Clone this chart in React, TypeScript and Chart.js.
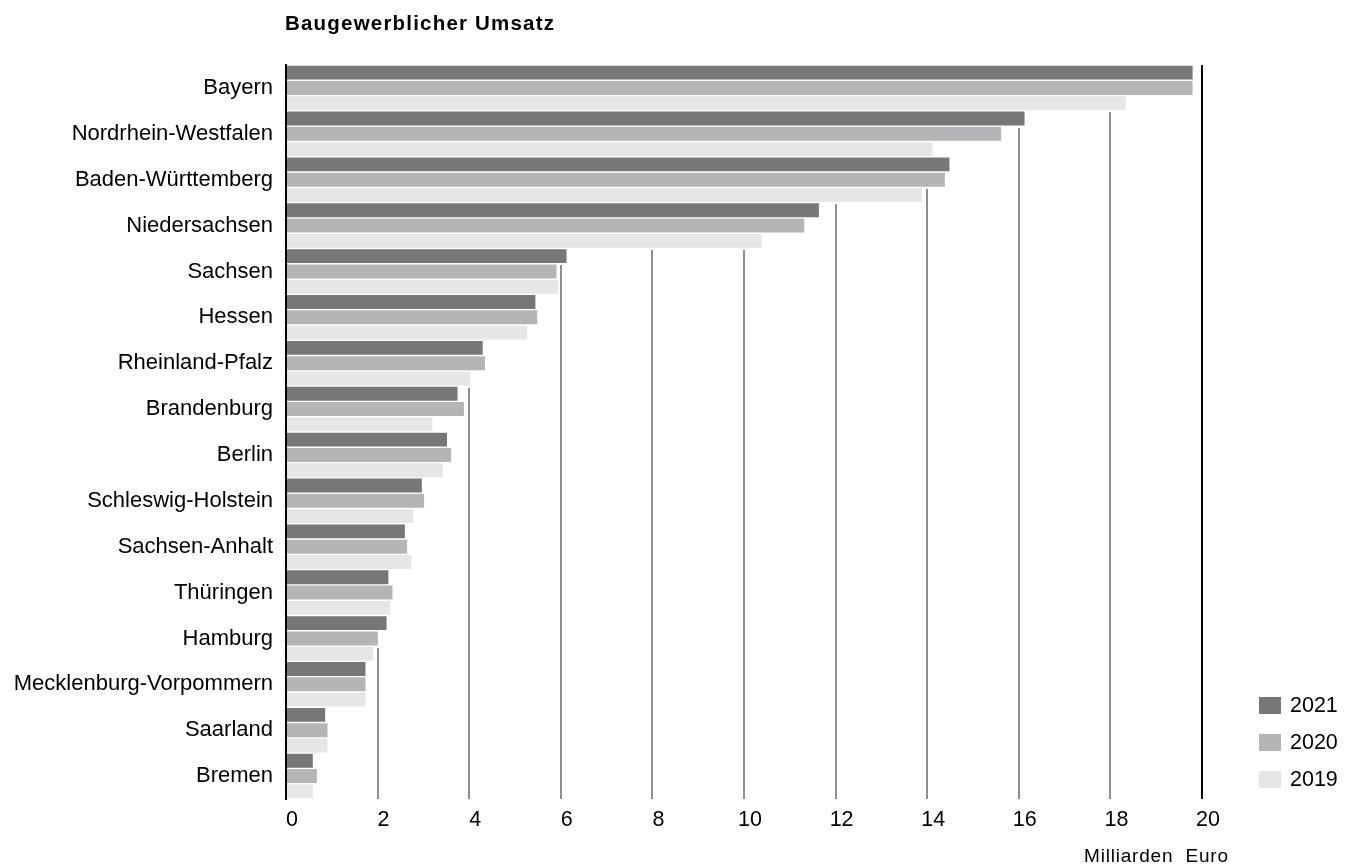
import React, { useEffect, useRef } from "react";
import { Chart, registerables } from "chart.js";

Chart.register(...registerables);

const FONT = '"Liberation Sans", Arial, sans-serif';

const chartTitle = "Baugewerblicher Umsatz";
const unitLabel = "Milliarden  Euro";

const categories = [
  "Bayern",
  "Nordrhein-Westfalen",
  "Baden-Württemberg",
  "Niedersachsen",
  "Sachsen",
  "Hessen",
  "Rheinland-Pfalz",
  "Brandenburg",
  "Berlin",
  "Schleswig-Holstein",
  "Sachsen-Anhalt",
  "Thüringen",
  "Hamburg",
  "Mecklenburg-Vorpommern",
  "Saarland",
  "Bremen",
];

const seriesLabels = ["2021", "2020", "2019"];
const seriesColors = ["#767779", "#b4b5b7", "#e6e6e6"];

// Milliarden Euro
const values2021 = [19.81, 16.14, 14.5, 11.65, 6.14, 5.46, 4.31, 3.76, 3.53, 2.98, 2.61, 2.25, 2.21, 1.75, 0.87, 0.6];
const values2020 = [19.81, 15.63, 14.4, 11.33, 5.92, 5.5, 4.36, 3.9, 3.62, 3.03, 2.66, 2.34, 2.02, 1.75, 0.92, 0.69];
const values2019 = [18.35, 14.13, 13.9, 10.4, 5.96, 5.28, 4.04, 3.21, 3.44, 2.79, 2.75, 2.29, 1.92, 1.75, 0.92, 0.6];

const xTicks = [0, 2, 4, 6, 8, 10, 12, 14, 16, 18, 20];

// White knock-out behind every bar so the grid lines never bleed through the gaps between bars
const barBacking = {
  id: "barBacking",
  beforeDatasetsDraw(chart: any) {
    const { ctx, chartArea } = chart;
    ctx.save();
    ctx.fillStyle = "#ffffff";
    chart.data.datasets.forEach((_: any, i: number) => {
      const meta = chart.getDatasetMeta(i);
      meta.data.forEach((bar: any) => {
        const { x, y, height } = bar.getProps(["x", "y", "height"], true);
        const top = Math.floor(y - height / 2) - 1;
        const bottom = Math.ceil(y + height / 2) + 1;
        const right = Math.ceil(x) + 1;
        ctx.fillRect(chartArea.left + 1, top, right - chartArea.left - 1, bottom - top);
      });
    });
    ctx.restore();
  },
};

// Title above the plot, unit label under the axis and the legend at the lower right
const decorations = {
  id: "decorations",
  afterDraw(chart: any) {
    const { ctx, chartArea } = chart;
    ctx.save();
    ctx.fillStyle = "#000";
    ctx.textAlign = "left";
    ctx.textBaseline = "alphabetic";
    ctx.font = `bold 20.5px ${FONT}`;
    (ctx as any).letterSpacing = "1.2px";
    ctx.fillText(chartTitle, chartArea.left - 1, 30);

    ctx.font = `19px ${FONT}`;
    (ctx as any).letterSpacing = "0.8px";
    ctx.fillText(unitLabel, 1084, 862);

    (ctx as any).letterSpacing = "0px";
    ctx.font = `21.5px ${FONT}`;
    ctx.textBaseline = "middle";
    chart.data.datasets.forEach((ds: any, i: number) => {
      const top = 697 + i * 37;
      ctx.fillStyle = ds.backgroundColor;
      ctx.fillRect(1259, top, 22, 17);
      ctx.fillStyle = "#000";
      ctx.fillText(ds.label, 1290, top + 9);
    });
    ctx.restore();
  },
};

export default function App() {
  const canvasRef = useRef<HTMLCanvasElement | null>(null);

  useEffect(() => {
    if (!canvasRef.current) return;
    const valueSets = [values2021, values2020, values2019];
    const chart = new Chart(canvasRef.current, {
      type: "bar",
      data: {
        labels: categories,
        datasets: seriesLabels.map((label, i) => ({
          label,
          data: valueSets[i],
          backgroundColor: seriesColors[i],
          borderColor: "#ffffff",
          borderWidth: 1,
          borderSkipped: "start",
          barPercentage: 1,
          categoryPercentage: 1,
        })),
      },
      options: {
        indexAxis: "y",
        animation: false,
        responsive: true,
        maintainAspectRatio: false,
        layout: { padding: { top: 65, right: 155, bottom: 0, left: 0 } },
        plugins: {
          legend: { display: false },
          title: { display: false },
          tooltip: { enabled: false },
        },
        scales: {
          x: {
            type: "linear",
            min: 0,
            max: 20,
            afterBuildTicks: (scale: any) => {
              scale.ticks = xTicks.map((v) => ({ value: v }));
            },
            afterFit: (scale: any) => {
              scale.height = 68;
            },
            ticks: {
              color: "#000",
              font: { family: FONT, size: 21.5 },
              padding: 8,
              labelOffset: 6,
              maxRotation: 0,
            },
            grid: {
              drawTicks: false,
              lineWidth: 2,
              color: (c: any) =>
                c.tick && c.tick.value === 20
                  ? "#000000"
                  : c.tick && c.tick.value === 0
                  ? "rgba(0,0,0,0)"
                  : "#8e8e8e",
            },
            border: { display: false },
          },
          y: {
            type: "category",
            z: 1,
            afterFit: (scale: any) => {
              scale.width = 286;
            },
            ticks: {
              color: "#000",
              font: { family: FONT, size: 22 },
              padding: 13,
            },
            grid: { display: false, drawTicks: false },
            // axis line at zero sits on top of the bars
            border: { display: true, color: "#000000", width: 2, z: 2 },
          },
        },
      },
      plugins: [barBacking, decorations],
    });
    return () => chart.destroy();
  }, []);

  return (
    <div style={{ position: "fixed", left: 0, top: 0, width: "100vw", height: "100vh", background: "#fff" }}>
      <canvas ref={canvasRef} />
    </div>
  );
}
